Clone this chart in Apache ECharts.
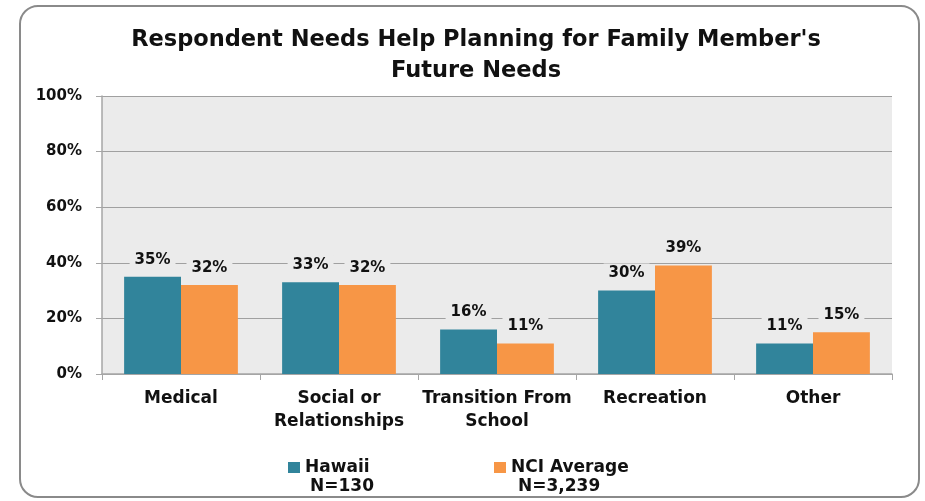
<!DOCTYPE html>
<html>
<head>
<meta charset="utf-8">
<script src="https://cdn.jsdelivr.net/npm/echarts@6/dist/echarts.min.js"></script>
<style>
html,body{margin:0;padding:0;background:#fff;}
#c{width:925px;height:501px;}
</style>
</head>
<body>
<div id="c"></div>
<script>
const categories = ['Medical', 'Social or\nRelationships', 'Transition From\nSchool', 'Recreation', 'Other'];
const hawaii = [35, 33, 16, 30, 11];
const nciAverage = [32, 32, 11, 39, 15];
const seriesNames = ['Hawaii', 'NCI Average'];
const seriesN = ['N=130', 'N=3,239'];
const titleText = "Respondent Needs Help Planning for Family Member's\nFuture Needs";

const FONT = '"DejaVu Sans", sans-serif';
const TXT = '#111';
const chart = echarts.init(document.getElementById('c'), null, {renderer: 'canvas'});
const labelCfg = {
  show: true, position: 'top', distance: 7,
  formatter: '{c}%', fontFamily: FONT, fontWeight: 'bold', fontSize: 15, color: TXT,
  backgroundColor: '#ebebeb', padding: [2, 5], lineHeight: 16
};
const legendText = {fontFamily: FONT, fontWeight: 'bold', fontSize: 17, color: TXT};
chart.setOption({
  animation: false,
  backgroundColor: '#fff',
  title: {
    text: titleText, left: 471, top: 20, textAlign: 'center',
    textStyle: {fontFamily: FONT, fontWeight: 'bold', fontSize: 22.5, color: TXT, lineHeight: 31}
  },
  graphic: [
    {type: 'rect', shape: {x: 20, y: 6, width: 899, height: 491, r: 18},
     style: {fill: null, stroke: '#8a8a8a', lineWidth: 2}, z: 100},
    {type: 'text', left: 310, top: 478, style: {text: seriesN[0], font: 'bold 17px "DejaVu Sans"', fill: TXT}},
    {type: 'text', left: 518, top: 478, style: {text: seriesN[1], font: 'bold 17px "DejaVu Sans"', fill: TXT}}
  ],
  legend: [
    {data: [seriesNames[0]], left: 283, top: 454, itemWidth: 12, itemHeight: 11, icon: 'rect', textStyle: legendText},
    {data: [seriesNames[1]], left: 489, top: 454, itemWidth: 12, itemHeight: 11, icon: 'rect', textStyle: legendText}
  ],
  grid: {left: 102, right: 33, top: 96, bottom: 127, show: true, backgroundColor: '#ebebeb', borderWidth: 0},
  xAxis: {
    type: 'category', data: categories,
    axisLine: {lineStyle: {color: '#a6a6a6', width: 1.5}},
    axisTick: {show: true, length: 6, lineStyle: {color: '#a6a6a6'}},
    axisLabel: {fontFamily: FONT, fontWeight: 'bold', fontSize: 17, color: TXT, lineHeight: 23, margin: 13, interval: 0}
  },
  yAxis: {
    type: 'value', min: 0, max: 100, interval: 20,
    axisLine: {show: true, lineStyle: {color: '#a6a6a6', width: 1.5}},
    axisTick: {show: true, length: 6, lineStyle: {color: '#a6a6a6'}},
    splitLine: {lineStyle: {color: '#a0a0a0', width: 1.2}},
    axisLabel: {formatter: '{value}%', fontFamily: FONT, fontWeight: 'bold', fontSize: 15, color: TXT, margin: 20}
  },
  series: [
    {name: seriesNames[0], type: 'bar', data: hawaii, barGap: '0%', barCategoryGap: '28%',
     itemStyle: {color: '#31849B'}, label: labelCfg},
    {name: seriesNames[1], type: 'bar', data: nciAverage, barGap: '0%', barCategoryGap: '28%',
     itemStyle: {color: '#F79646'}, label: labelCfg}
  ]
});
</script>
</body>
</html>
